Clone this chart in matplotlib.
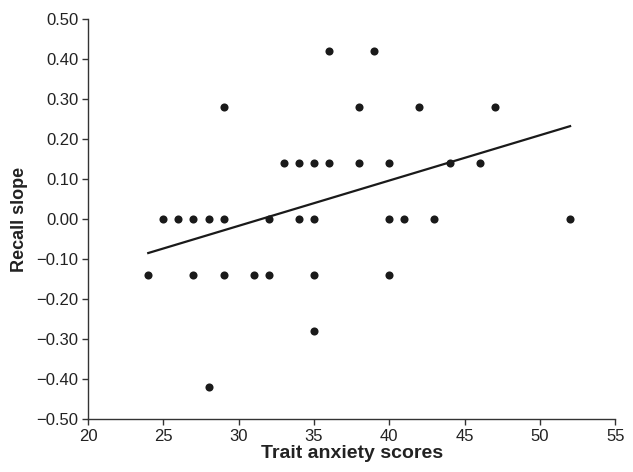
import matplotlib

matplotlib.use("Agg")
import matplotlib.pyplot as plt

plt.rcParams["font.family"] = ["Liberation Sans", "DejaVu Sans"]

# trait anxiety score and recall slope for each participant
anxiety = [36, 39,
           29, 38, 42, 47,
           33, 34, 35, 36, 38, 40, 44, 46,
           25, 26, 27, 28, 29, 32, 34, 35, 40, 41, 43, 52,
           24, 27, 29, 31, 32, 35, 40,
           35,
           28]
recall = [0.42, 0.42,
          0.28, 0.28, 0.28, 0.28,
          0.14, 0.14, 0.14, 0.14, 0.14, 0.14, 0.14, 0.14,
          0.00, 0.00, 0.00, 0.00, 0.00, 0.00, 0.00, 0.00, 0.00, 0.00, 0.00, 0.00,
          -0.14, -0.14, -0.14, -0.14, -0.14, -0.14, -0.14,
          -0.28,
          -0.42]

# regression line end points
fit_x = [24, 52]
fit_y = [-0.085, 0.232]

xticks = [20, 25, 30, 35, 40, 45, 50, 55]
yticks = [-0.5, -0.4, -0.3, -0.2, -0.1, 0.0, 0.1, 0.2, 0.3, 0.4, 0.5]

fig = plt.figure(figsize=(6.33, 4.72), dpi=100)
ax = fig.add_axes([0.139, 0.112, 0.833, 0.848])

ax.scatter(anxiety, recall, s=34, color="#1a1a1a", zorder=3, linewidths=0)
ax.plot(fit_x, fit_y, color="#1a1a1a", linewidth=1.6, zorder=2)

ax.set_xlim(20, 55)
ax.set_ylim(-0.5, 0.5)
ax.set_xticks(xticks)
ax.set_yticks(yticks)
ax.set_yticklabels([f"{v:.2f}".replace("-", "\u2212") for v in yticks])

for side in ("top", "right"):
    ax.spines[side].set_visible(False)
for side in ("left", "bottom"):
    ax.spines[side].set_color("#333333")
    ax.spines[side].set_linewidth(1.0)
ax.tick_params(direction="out", length=4, width=1.0, color="#333333",
               labelsize=12, labelcolor="#222222", pad=3)

ax.set_xlabel("Trait anxiety scores", fontsize=14, fontweight="bold",
              labelpad=1, color="#222222")
ax.set_ylabel("Recall slope", fontsize=13, fontweight="bold",
              labelpad=6, color="#222222")

fig.savefig("out.png", dpi=100)
plt.close(fig)
